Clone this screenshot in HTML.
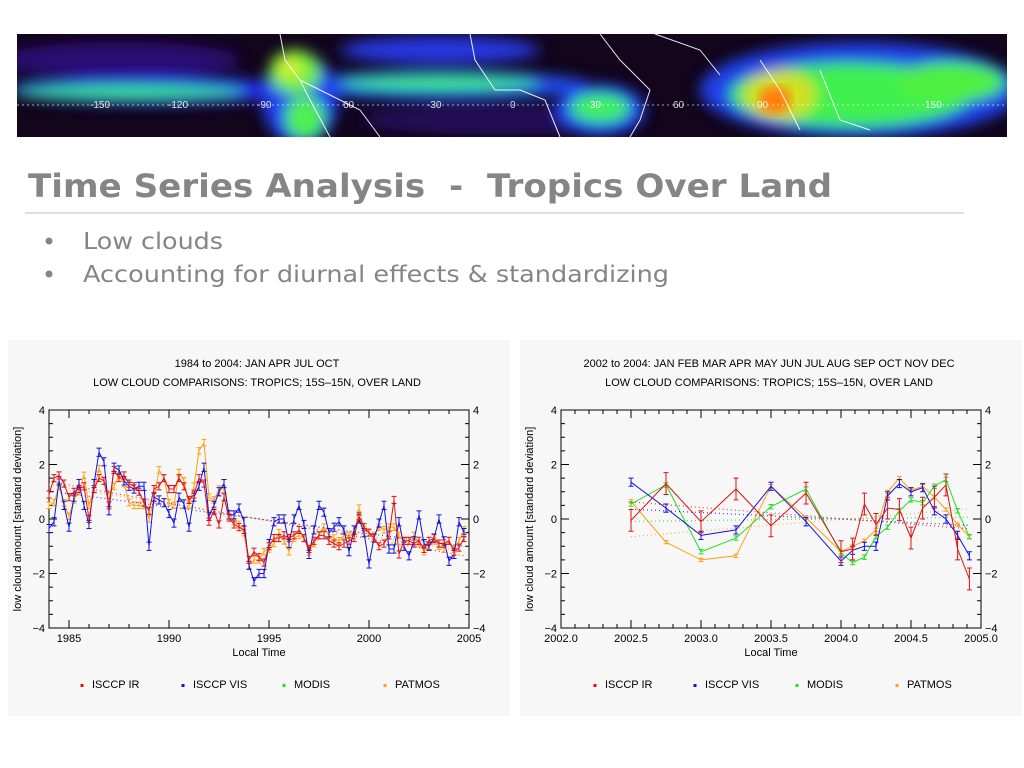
<!DOCTYPE html>
<html><head><meta charset="utf-8"><style>
html,body{margin:0;padding:0;background:#fff;}
svg{display:block;}
</style></head><body>
<svg id="slide" width="1024" height="768" viewBox="0 0 1024 768" xmlns="http://www.w3.org/2000/svg" font-family="'Liberation Sans', 'DejaVu Sans', sans-serif">
<defs>
<filter id="blur" x="-20%" y="-50%" width="140%" height="200%"><feGaussianBlur stdDeviation="7"/></filter>
<filter id="blur2"><feGaussianBlur stdDeviation="5"/></filter>
<clipPath id="bclip"><rect x="17" y="34" width="990" height="103"/></clipPath>
</defs>
<g clip-path="url(#bclip)">
<rect x="17" y="34" width="990" height="103" fill="#12051c"/>
<g filter="url(#blur)">
<ellipse cx="120" cy="60" rx="120" ry="18" fill="#30108a" opacity="0.8"/>
<ellipse cx="500" cy="120" rx="140" ry="15" fill="#2a0c70" opacity="0.7"/>
<ellipse cx="150" cy="90" rx="140" ry="14" fill="#2030f0"/>
<ellipse cx="440" cy="50" rx="100" ry="14" fill="#2838e0"/>
<ellipse cx="440" cy="85" rx="150" ry="14" fill="#2050f0"/>
<ellipse cx="860" cy="90" rx="160" ry="48" fill="#2040e8"/>
<ellipse cx="300" cy="100" rx="38" ry="45" fill="#2040f0"/>
<ellipse cx="600" cy="110" rx="45" ry="26" fill="#2040f0"/>
<ellipse cx="130" cy="92" rx="115" ry="6" fill="#40f060"/>
<ellipse cx="295" cy="72" rx="26" ry="22" fill="#70f040"/>
<ellipse cx="305" cy="118" rx="20" ry="22" fill="#50f050"/>
<ellipse cx="440" cy="83" rx="100" ry="7" fill="#40f070"/>
<ellipse cx="600" cy="108" rx="30" ry="15" fill="#40f060"/>
<ellipse cx="850" cy="95" rx="120" ry="32" fill="#40f050"/>
<ellipse cx="950" cy="82" rx="55" ry="20" fill="#50f040"/>
<ellipse cx="780" cy="95" rx="36" ry="25" fill="#d0e020"/>
<ellipse cx="290" cy="68" rx="13" ry="11" fill="#d0f030"/>
</g>
<ellipse cx="775" cy="100" rx="16" ry="14" fill="#ff8010" filter="url(#blur2)"/>
<g stroke="#fff" stroke-width="1" fill="none" opacity="0.9">
<path d="M280 34 L285 60 L300 80 L310 100 L330 137"/>
<path d="M300 80 L330 95 L360 110 L380 137"/>
<path d="M470 34 L475 60 L495 90 L520 90 L545 100 L560 137"/>
<path d="M600 34 L620 60 L650 90 L640 120 L630 137"/>
<path d="M655 34 L700 50 L720 75"/>
<path d="M760 60 L780 90 L800 130 M820 70 L840 120 L870 130"/>
</g>
<line x1="17" y1="105" x2="1007" y2="105" stroke="#fff" stroke-dasharray="2,3" stroke-width="0.8" opacity="0.8"/>
<g fill="#fff" font-size="10" opacity="0.85">
<text x="90" y="108">-150</text><text x="168" y="108">-120</text><text x="257" y="108">-90</text><text x="343" y="108">60</text><text x="427" y="108">-30</text><text x="510" y="108">0</text><text x="590" y="108">30</text><text x="673" y="108">60</text><text x="757" y="108">90</text><text x="925" y="108">150</text>
</g>
</g>
<text x="28" y="197" font-family="'DejaVu Sans', sans-serif" font-weight="bold" font-size="32" fill="#858585" textLength="804" lengthAdjust="spacingAndGlyphs" xml:space="preserve">Time Series Analysis  -  Tropics Over Land</text>
<line x1="25" y1="213" x2="964" y2="213" stroke="#bdbdbd" stroke-width="1"/>
<g font-family="'DejaVu Sans', sans-serif" font-size="23" fill="#858585">
<circle cx="49" cy="241" r="3.5"/><text x="83" y="249" textLength="140" lengthAdjust="spacingAndGlyphs">Low clouds</text>
<circle cx="49" cy="274" r="3.5"/><text x="83" y="282" textLength="586" lengthAdjust="spacingAndGlyphs">Accounting for diurnal effects &amp; standardizing</text>
</g>
<g id="leftChart"></g>
<g id="rightChart"></g>
</svg>
<script>
// ---- Left chart data (quarterly from 1984) ----
const leftStartYear = 1984;
const leftStep = 0.25;
const leftIR = [0.9,1.5,1.6,1.3,0.8,1.0,1.1,1.2,0.0,1.1,1.5,1.4,0.5,1.8,1.5,1.6,1.3,1.2,1.0,0.6,0.3,1.1,1.2,1.5,1.1,1.1,1.5,1.2,0.7,0.9,1.5,1.3,-0.1,0.3,-0.2,0.8,0.05,-0.2,-0.3,-0.4,-1.5,-1.2,-1.4,-1.6,-1.0,-0.7,-0.7,-0.6,-0.7,-0.6,-0.4,-0.7,-1.1,-0.8,-0.6,-0.6,-0.8,-0.9,-1.0,-0.9,-0.8,-0.7,0.1,-0.3,-0.5,-0.7,-1.0,-0.9,-0.6,0.7,-1.3,-0.8,-0.8,-0.9,-0.8,-1.1,-0.8,-0.7,-0.9,-0.9,-0.8,-1.2,-1.05,-0.7];
const leftVIS = [-0.35,-0.1,1.4,0.5,-0.3,0.8,1.3,0.5,-0.2,1.3,2.45,2.1,0.3,1.9,1.8,1.4,1.2,1.1,1.2,1.2,-1.0,0.8,0.7,0.6,0.2,-0.15,0.8,0.55,-0.3,0.8,1.2,1.9,0.1,0.5,1.0,1.3,0.15,0.15,0.4,-0.1,-1.7,-2.3,-2.0,-2.0,-0.9,-0.1,0.0,0.0,-0.9,0.0,0.5,-0.2,-1.3,-0.4,0.5,0.25,-0.5,-0.3,-0.1,-0.4,-1.2,-0.4,0.0,-0.5,-1.65,-0.7,-0.15,0.5,-1.1,-1.1,-0.1,-1.0,-1.35,-0.8,0.15,-0.9,-1.0,-0.7,0.0,-0.8,-1.55,-1.3,-0.1,-0.5];
const leftPATMOS = [0.5,0.6,1.2,0.6,0.1,0.7,1.0,1.6,0.5,1.1,1.85,1.4,0.9,1.2,1.6,1.3,0.6,0.5,0.5,0.5,0.0,0.7,1.8,1.5,0.6,0.5,1.7,1.4,0.5,1.2,2.5,2.8,0.8,0.7,1.1,1.1,0.2,-0.1,-0.2,-0.5,-1.7,-1.5,-1.5,-1.2,-1.1,-0.9,-0.5,-0.8,-1.2,-0.7,-0.6,-0.7,-1.2,-0.9,-0.6,-0.3,-0.6,-0.7,-0.8,-0.6,-0.6,-0.6,0.4,-0.4,-0.5,-0.6,-0.3,-0.4,-0.3,-0.3,-0.6,-0.8,-0.8,-0.6,-0.9,-1.2,-1.0,-0.8,-1.0,-1.1,-0.8,-1.1,-0.8,-0.4];
const leftXTicks = [1985,1990,1995,2000,2005];
const leftXTickLabels = ["1985","1990","1995","2000","2005"];
// ---- Right chart data ----
const rightTimes = [2002.5,2002.75,2003.0,2003.25,2003.5,2003.75,2004.0,2004.083,2004.167,2004.25,2004.333,2004.417,2004.5,2004.583,2004.667,2004.75,2004.833,2004.917];
const rightIR = [-0.05,1.3,-0.1,1.1,-0.25,0.95,-1.2,-1.1,0.55,-0.2,0.4,0.35,-0.7,0.4,0.8,1.25,-1.1,-2.2];
const rightVIS = [1.35,0.4,-0.6,-0.4,1.2,-0.1,-1.55,-1.15,-1.0,-1.0,0.85,1.3,1.0,1.15,0.3,0.0,-0.6,-1.35];
const rightMODIS = [0.55,1.25,-1.2,-0.7,0.45,1.1,-1.25,-1.6,-1.4,-0.65,-0.3,0.3,0.7,0.6,1.2,1.45,0.3,-0.65];
const rightPATMOS = [0.65,-0.85,-1.5,-1.35,1.2,0.05,-1.2,-1.0,-0.8,-0.4,1.0,1.5,1.05,1.2,0.8,0.35,-0.2,-0.65];
const rightXTicks = [2002.0,2002.5,2003.0,2003.5,2004.0,2004.5,2005.0];
const rightXTickLabels = ["2002.0","2002.5","2003.0","2003.5","2004.0","2004.5","2005.0"];
const yTicks = [-4,-2,0,2,4];
const yTickLabels = ["\u22124","\u22122","0","2","4"];
const legendLabels = ["ISCCP IR","ISCCP VIS","MODIS","PATMOS"];

const NS = "http://www.w3.org/2000/svg";
function mk(parent, tag, attrs, text){
  const e = document.createElementNS(NS, tag);
  for (const k in attrs) e.setAttribute(k, attrs[k]);
  if (text !== undefined) e.textContent = text;
  parent.appendChild(e);
  return e;
}
const COLORS = {ir:"#e01010", vis:"#1010e0", modis:"#20e020", patmos:"#ffa010"};

function drawChart(g, cfg){
  const px0 = cfg.px, px1 = cfg.px + 420, py0 = 410, py1 = 628;
  const xs = v => px0 + (v - cfg.xmin) / (cfg.xmax - cfg.xmin) * (px1 - px0);
  const ys = v => py0 + (4 - v) / 8 * (py1 - py0);
  const bg = mk(g, "rect", {x: cfg.px - 41, y: 340, width: 502, height: 376, fill: "#f7f7f7"});
  
  
  const t1 = mk(g, "text", {x: cfg.px + 208, y: 367, "text-anchor": "middle", "font-size": 11, fill: "#000"}, cfg.title1);
  
  
  const t2 = mk(g, "text", {x: cfg.px + 208, y: 386, "text-anchor": "middle", "font-size": 11, fill: "#000"}, "LOW CLOUD COMPARISONS: TROPICS; 15S\u201315N, OVER LAND");
  
  
  const frame = mk(g, "rect", {x: px0, y: py0, width: px1 - px0, height: py1 - py0, fill: "none", stroke: "#000", "stroke-width": 1});
  
  
  const ax = mk(g, "g", {stroke: "#000", "stroke-width": 1});
  
  
  for (let v = -4; v <= 4.001; v += 0.5) {
    const len = Math.abs(v % 2) < 0.01 ? 8 : 4;
    mk(ax, "line", {x1: px0, x2: px0 + len, y1: ys(v), y2: ys(v)});
    mk(ax, "line", {x1: px1, x2: px1 - len, y1: ys(v), y2: ys(v)});
  }
  for (let v = cfg.xmin; v <= cfg.xmax + 1e-6; v += cfg.minorStep) {
    mk(ax, "line", {x1: xs(v), x2: xs(v), y1: py1, y2: py1 - 4});
    mk(ax, "line", {x1: xs(v), x2: xs(v), y1: py0, y2: py0 + 4});
  }
  cfg.xticks.forEach((v, i) => {
    mk(ax, "line", {x1: xs(v), x2: xs(v), y1: py1, y2: py1 - 8});
    mk(ax, "line", {x1: xs(v), x2: xs(v), y1: py0, y2: py0 + 8});
    const tl = mk(g, "text", {x: xs(v), y: 642, "text-anchor": "middle", "font-size": 11}, cfg.xlabels[i]);
    
    
  });
  yTicks.forEach((v, i) => {
    const l = mk(g, "text", {x: px0 - 4, y: ys(v) + 4, "text-anchor": "end", "font-size": 11}, yTickLabels[i]);
    
    
    const r = mk(g, "text", {x: px1 + 4, y: ys(v) + 4, "text-anchor": "start", "font-size": 11}, yTickLabels[i]);
    
    
  });
  const xt = mk(g, "text", {x: cfg.px + 210, y: 656, "text-anchor": "middle", "font-size": 11}, "Local Time");
  
  
  const yt = mk(g, "text", {x: 0, y: 0, "text-anchor": "middle", "font-size": 11, transform: `translate(${px0 - 28},${(py0 + py1) / 2}) rotate(-90)`}, "low cloud amount [standard deviation]");
  
  
  cfg.series.forEach(s => {
    const sg = mk(g, "g", {});
    
    
    const t = cfg.times;
    const n = s.vals.length;
    let sx = 0, sy = 0, sxx = 0, sxy = 0;
    for (let i = 0; i < n; i++) { sx += t[i]; sy += s.vals[i]; sxx += t[i] * t[i]; sxy += t[i] * s.vals[i]; }
    const b = (n * sxy - sx * sy) / (n * sxx - sx * sx), a = (sy - b * sx) / n;
    const tr = mk(sg, "line", {x1: xs(t[0]), y1: ys(a + b * t[0]), x2: xs(t[n - 1]), y2: ys(a + b * t[n - 1]), stroke: s.color, "stroke-width": 1.2, "stroke-dasharray": "1,3", opacity: 0.8});
    
    
    const pts = s.vals.map((v, i) => xs(t[i]).toFixed(1) + "," + ys(v).toFixed(1)).join(" ");
    const pl = mk(sg, "polyline", {points: pts, fill: "none", stroke: s.color, "stroke-width": 1});
    
    
    s.vals.forEach((v, i) => {
      const x = xs(t[i]), yt0 = ys(v + s.err), yb = ys(v - s.err);
      const eb = mk(sg, "path", {d: `M${x},${yt0}V${yb}M${x - 2.5},${yt0}h5M${x - 2.5},${yb}h5`, stroke: s.color, "stroke-width": 1, fill: "none"});
      
      
    });
  });
  const lg = mk(g, "g", {});
  
  
  const lc = [COLORS.ir, COLORS.vis, COLORS.modis, COLORS.patmos];
  legendLabels.forEach((lab, i) => {
    const lx = cfg.legendX[i];
    const e = mk(lg, "g", {});
    
    
    mk(e, "rect", {x: lx - 1.5, y: 684, width: 3, height: 3, fill: lc[i]});
    mk(e, "text", {x: lx + 10, y: 688, "font-size": 11}, lab);
  });
}

const leftTimes = leftIR.map((_, i) => leftStartYear + i * leftStep);
drawChart(document.getElementById("leftChart"), {
  px: 49, xmin: 1984, xmax: 2005, minorStep: 1,
  title1: "1984 to 2004: JAN APR JUL OCT",
  xticks: leftXTicks, xlabels: leftXTickLabels, times: leftTimes,
  legendX: [82, 183, 284, 385],
  series: [
    {key: "patmos", color: COLORS.patmos, vals: leftPATMOS, err: 0.12},
    {key: "vis", color: COLORS.vis, vals: leftVIS, err: 0.15},
    {key: "ir", color: COLORS.ir, vals: leftIR, err: 0.13}
  ]
});
drawChart(document.getElementById("rightChart"), {
  px: 561, xmin: 2002.0, xmax: 2005.0, minorStep: 0.1,
  title1: "2002 to 2004: JAN FEB MAR APR MAY JUN JUL AUG SEP OCT NOV DEC",
  xticks: rightXTicks, xlabels: rightXTickLabels, times: rightTimes,
  legendX: [595, 695, 797, 897],
  series: [
    {key: "patmos", color: COLORS.patmos, vals: rightPATMOS, err: 0.06},
    {key: "modis", color: COLORS.modis, vals: rightMODIS, err: 0.08},
    {key: "vis", color: COLORS.vis, vals: rightVIS, err: 0.15},
    {key: "ir", color: COLORS.ir, vals: rightIR, err: 0.4}
  ]
});
</script>
</body></html>
